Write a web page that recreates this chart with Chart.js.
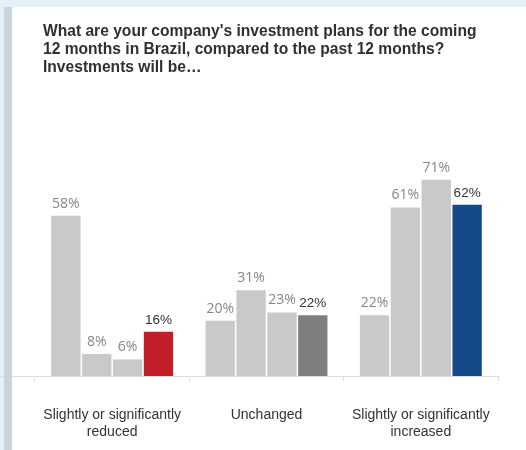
<!DOCTYPE html>
<html>
<head>
<meta charset="utf-8">
<script src="https://cdn.jsdelivr.net/npm/chart.js@4"></script>
<style>
  body { margin: 0; background: #e4f0f8; }
  .panel { position: relative; width: 526px; height: 450px; overflow: hidden; }
  .sheet { position: absolute; left: 4px; top: 7px; right: 0; bottom: 0; background: #fff; }
  .side-bar { position: absolute; left: 4px; top: 7px; width: 8px; bottom: 0; background: #c9d3dd; z-index: 2; }
  .title {
    position: absolute; left: 43px; top: 22px; margin: 0; z-index: 3;
    font: bold 15.6px/18px "Liberation Sans", Arial, sans-serif; color: #303030;
  }
  #plans { position: absolute; left: 0; top: 0; z-index: 1; }
</style>
</head>
<body>
<div class="panel">
  <div class="sheet"></div>
  <canvas id="plans" width="526" height="450"></canvas>
  <div class="side-bar"></div>
  <h1 class="title">What are your company's investment plans for the coming<br>12 months in Brazil, compared to the past 12 months?<br>Investments will be…</h1>
</div>
<script>
// answers, one bar per survey wave, the last wave highlighted
const answers = [
  ['Slightly or significantly', 'reduced'],
  'Unchanged',
  ['Slightly or significantly', 'increased']
];
const wave1 = [58, 20, 22];
const wave2 = [8, 31, 61];
const wave3 = [6, 23, 71];
const latest = [16, 22, 62];
const latestColors = ['#c01f27', '#7f7f7f', '#134a87'];

const gray = '#c9c9c9';

// percent labels above the bars + axis line running to the left edge
const barLabels = {
  id: 'barLabels',
  afterDatasetsDraw(chart) {
    const ctx = chart.ctx;
    ctx.save();
    ctx.textAlign = 'center';
    ctx.textBaseline = 'alphabetic';
    chart.data.datasets.forEach((ds, i) => {
      const last = i === chart.data.datasets.length - 1;
      ctx.fillStyle = last ? '#333333' : '#868686';
      ctx.font = last ? '13.5px "Liberation Sans", Arial' : '14px "Open Sans"';
      chart.getDatasetMeta(i).data.forEach((bar, j) => {
        ctx.fillText(ds.data[j] + '%', bar.x, bar.y - 8);
      });
    });
    const area = chart.chartArea;
    ctx.strokeStyle = '#dcdcdc';
    ctx.lineWidth = 1;
    ctx.beginPath();
    ctx.moveTo(0, area.bottom + 0.5);
    ctx.lineTo(area.left, area.bottom + 0.5);
    ctx.stroke();
    ctx.restore();
  }
};

const bar = (data, color) => ({
  data: data,
  backgroundColor: color,
  barPercentage: 0.95,
  categoryPercentage: 0.8
});

new Chart(document.querySelector('#plans'), {
  type: 'bar',
  data: {
    labels: answers,
    datasets: [
      bar(wave1, gray),
      bar(wave2, gray),
      bar(wave3, gray),
      bar(latest, latestColors)
    ]
  },
  options: {
    responsive: false,
    animation: false,
    layout: {
      padding: { left: 35, right: 28, top: 155, bottom: 12 }
    },
    scales: {
      y: { display: false, min: 0, max: 80 },
      x: {
        afterFit: (scale) => { scale.height = 62; },
        grid: { drawOnChartArea: false, tickLength: 5, color: '#dcdcdc' },
        border: { color: '#dcdcdc' },
        ticks: {
          color: '#333333',
          padding: 26,
          font: { family: '"Liberation Sans", Arial', size: 14, lineHeight: 1.2 }
        }
      }
    },
    plugins: {
      legend: { display: false },
      tooltip: { enabled: false }
    }
  },
  plugins: [barLabels]
});
</script>
</body>
</html>
